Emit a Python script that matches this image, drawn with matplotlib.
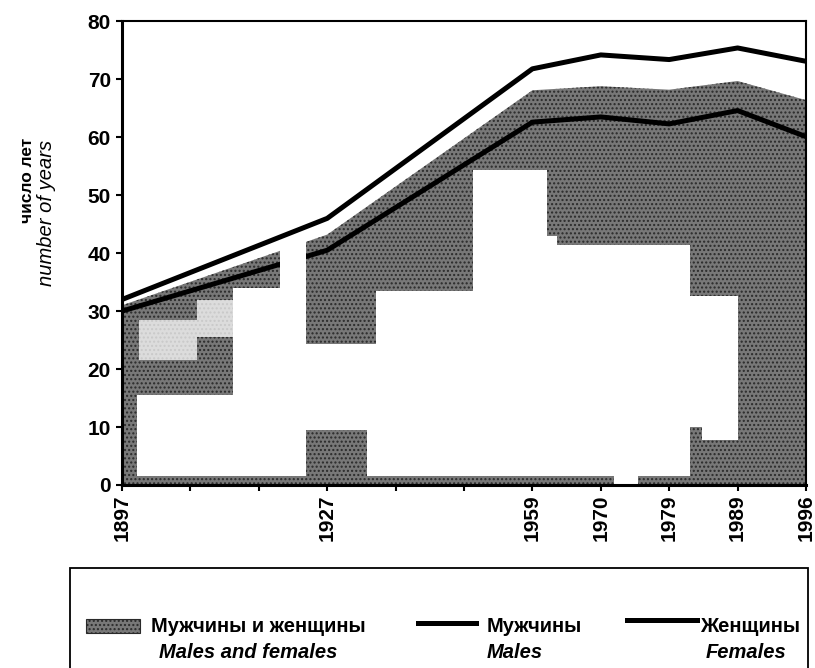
import matplotlib
matplotlib.use("Agg")
import matplotlib.pyplot as plt
from matplotlib.patches import Rectangle
from matplotlib.lines import Line2D

plt.rcParams['font.family'] = ['Liberation Sans', 'DejaVu Sans']
plt.rcParams['hatch.linewidth'] = 1.0

# ---------------- data ----------------
categories = ['1897', '', '', '1927', '', '', '1959', '1970', '1979', '1989', '1996']
years = ['1897', '1927', '1959', '1970', '1979', '1989', '1996']
males_females = [31.0, 43.2, 68.1, 68.8, 68.2, 69.7, 66.4]
males = [30.0, 40.5, 62.6, 63.5, 62.3, 64.6, 60.1]
females = [32.0, 46.0, 71.8, 74.2, 73.4, 75.4, 73.1]

y_ticks = [0, 10, 20, 30, 40, 50, 60, 70, 80]

# no-data break (category units) between 1897 and 1927
GAP = (2.31, 2.69)

# white blotches of the photographic fill texture (x0, x1, y0, y1)
texture_holes = [
    (0.22, 2.31, 1.5, 15.5),
    (1.62, 2.31, 15.5, 34.0),
    (2.69, 3.72, 9.5, 24.4),
    (3.58, 3.72, 1.5, 9.5),
    (3.72, 5.13, 1.5, 33.5),
    (5.13, 6.22, 1.5, 54.3),
    (6.22, 6.36, 1.5, 43.0),
    (6.36, 8.31, 1.5, 41.4),
    (8.31, 9.0, 10.0, 32.6),
    (8.48, 9.0, 7.8, 10.0),
    (7.2, 7.55, 0.0, 1.5),
]
texture_light = [
    (0.25, 1.10, 21.5, 28.5),
    (1.10, 1.62, 25.5, 32.0),
]

# ---------------- figure ----------------
fig = plt.figure(figsize=(8.15, 6.68), dpi=100)
ax = fig.add_axes([122/815, 1-485/668, (806-122)/815, (485-21.3)/668])

xpos = [categories.index(y) for y in years]

FILL_FC = '#787878'
FILL_EC = '#2a2a2a'
FILL_HATCH = '....'
ax.fill_between(xpos, 0, males_females, facecolor=FILL_FC, edgecolor=FILL_EC,
                hatch=FILL_HATCH, linewidth=0, zorder=1)
for (x0, x1, y0, y1) in texture_holes:
    ax.add_patch(Rectangle((x0, y0), x1-x0, y1-y0, facecolor='white',
                           edgecolor='none', zorder=1.2))
for (x0, x1, y0, y1) in texture_light:
    ax.add_patch(Rectangle((x0, y0), x1-x0, y1-y0, facecolor='white',
                           edgecolor='none', alpha=0.75, zorder=1.2))

ax.plot(xpos, males, color='black', lw=3.6, solid_capstyle='butt', zorder=2)
ax.axvspan(GAP[0], GAP[1], ymin=1.5/80, ymax=1, facecolor='white',
           edgecolor='none', zorder=2.5)
ax.plot(xpos, females, color='black', lw=3.6, solid_capstyle='butt', zorder=3)

ax.set_xlim(0, len(categories)-1)
ax.set_ylim(y_ticks[0], y_ticks[-1])
ax.set_xticks(range(len(categories)))
ax.set_xticklabels(categories, rotation=90, fontsize=15, fontweight='bold')
ax.set_yticks(y_ticks)
ax.set_yticklabels([str(v) for v in y_ticks], fontsize=15, fontweight='bold')
ax.tick_params(axis='both', direction='out', length=4, width=1.5, color='black')
ax.tick_params(axis='x', pad=3)
ax.tick_params(axis='y', pad=4)

for s in ['left', 'bottom']:
    ax.spines[s].set_linewidth(2.2)
for s in ['top', 'right']:
    ax.spines[s].set_linewidth(1.5)
for s in ax.spines.values():
    s.set_zorder(5)

fig.text(28/815, 1-138/668, 'число лет', rotation=90, ha='center', va='top',
         fontsize=12.5, fontweight='bold')
fig.text(47/815, 1-140/668, 'number of years', rotation=90, ha='center', va='top',
         fontsize=14.5, fontstyle='italic')

# ---------------- legend ----------------
def fx(px):
    return px/815
def fy(py):
    return 1-py/668

fig.patches.append(Rectangle((fx(70), fy(700)), fx(808)-fx(70), fy(568)-fy(700),
                             transform=fig.transFigure, facecolor='none',
                             edgecolor='black', linewidth=1.3))
r1, r2 = 626, 653
fig.patches.append(Rectangle((fx(86), fy(r1+7)), fx(140)-fx(86), fy(r1-7)-fy(r1+7),
                             transform=fig.transFigure, facecolor=FILL_FC,
                             edgecolor=FILL_EC, hatch=FILL_HATCH, linewidth=0.8))
fig.text(fx(151), fy(r1), 'Мужчины и женщины', ha='left', va='center',
         fontsize=14.5, fontweight='bold')
fig.text(fx(159), fy(r2), 'Males and females', ha='left', va='center',
         fontsize=14.5, fontweight='bold', fontstyle='italic')

fig.lines.append(Line2D([fx(418), fx(476)], [fy(r1-3), fy(r1-3)],
                        transform=fig.transFigure, color='black', lw=3.6))
fig.text(fx(487), fy(r1), 'Мужчины', ha='left', va='center',
         fontsize=14.5, fontweight='bold')
fig.text(fx(487), fy(r2), 'Males', ha='left', va='center',
         fontsize=14.5, fontweight='bold', fontstyle='italic')

fig.lines.append(Line2D([fx(627), fx(697)], [fy(r1-6), fy(r1-6)],
                        transform=fig.transFigure, color='black', lw=3.6))
fig.text(fx(700), fy(r1), 'Женщины', ha='left', va='center',
         fontsize=14.5, fontweight='bold')
fig.text(fx(706), fy(r2), 'Females', ha='left', va='center',
         fontsize=14.5, fontweight='bold', fontstyle='italic')

fig.savefig('out.png', dpi=100)
